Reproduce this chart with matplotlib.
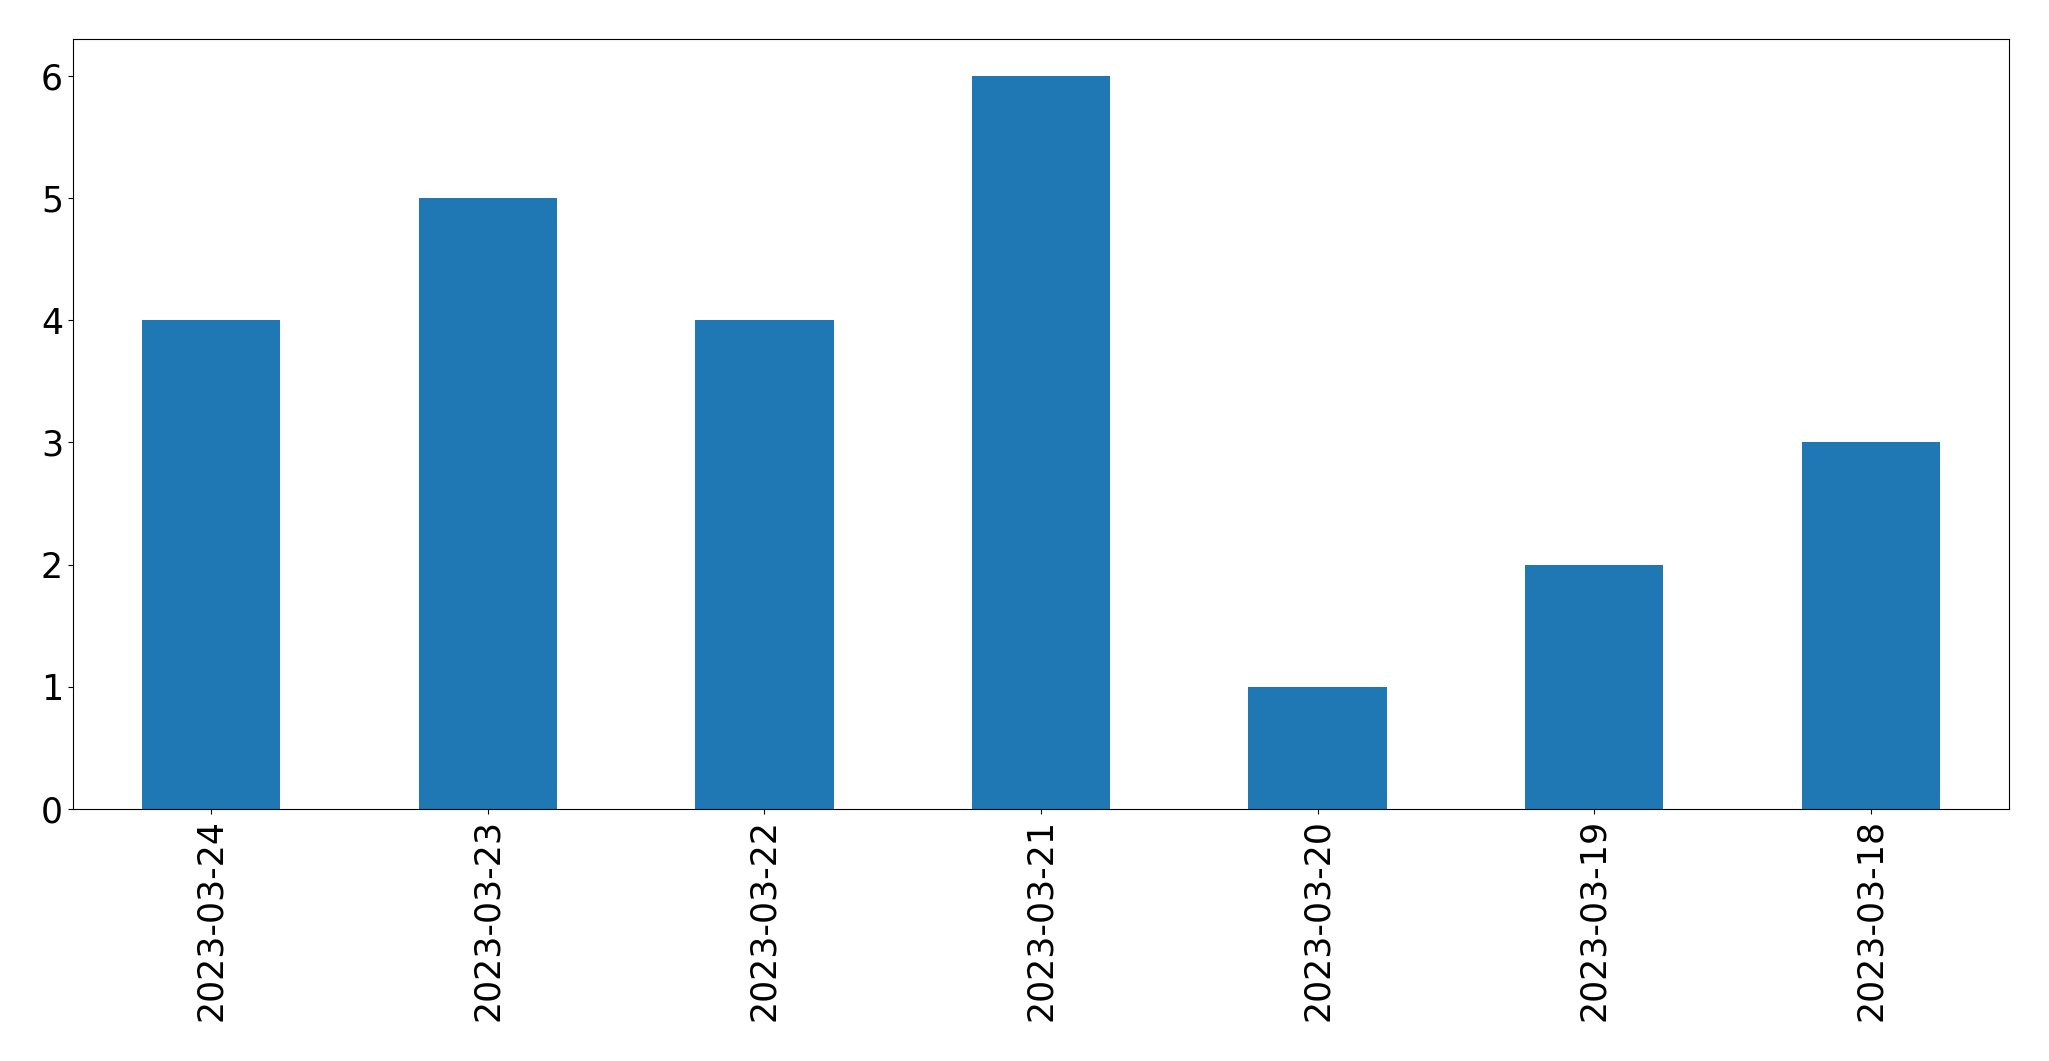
import matplotlib.pyplot as plt
import numpy as np

# Data
dates = ["2023-03-24", "2023-03-23", "2023-03-22", "2023-03-21",
         "2023-03-20", "2023-03-19", "2023-03-18"]
counts = [4, 5, 4, 6, 1, 2, 3]

x = np.arange(len(dates))

fig = plt.figure(figsize=(20.49, 10.61), dpi=100)
ax = fig.add_axes([72.7 / 2049, 1 - 809 / 1061, (2009.3 - 72.7) / 2049, (809 - 39.3) / 1061])

ax.bar(x, counts, width=0.5, color='#1f77b4')
ax.set_xlim(-0.5, len(dates) - 0.5)
ax.set_xticks(x)
ax.set_xticklabels(dates, rotation=90)
ax.tick_params(axis='both', labelsize=25)

fig.savefig('out.png', dpi=100)
